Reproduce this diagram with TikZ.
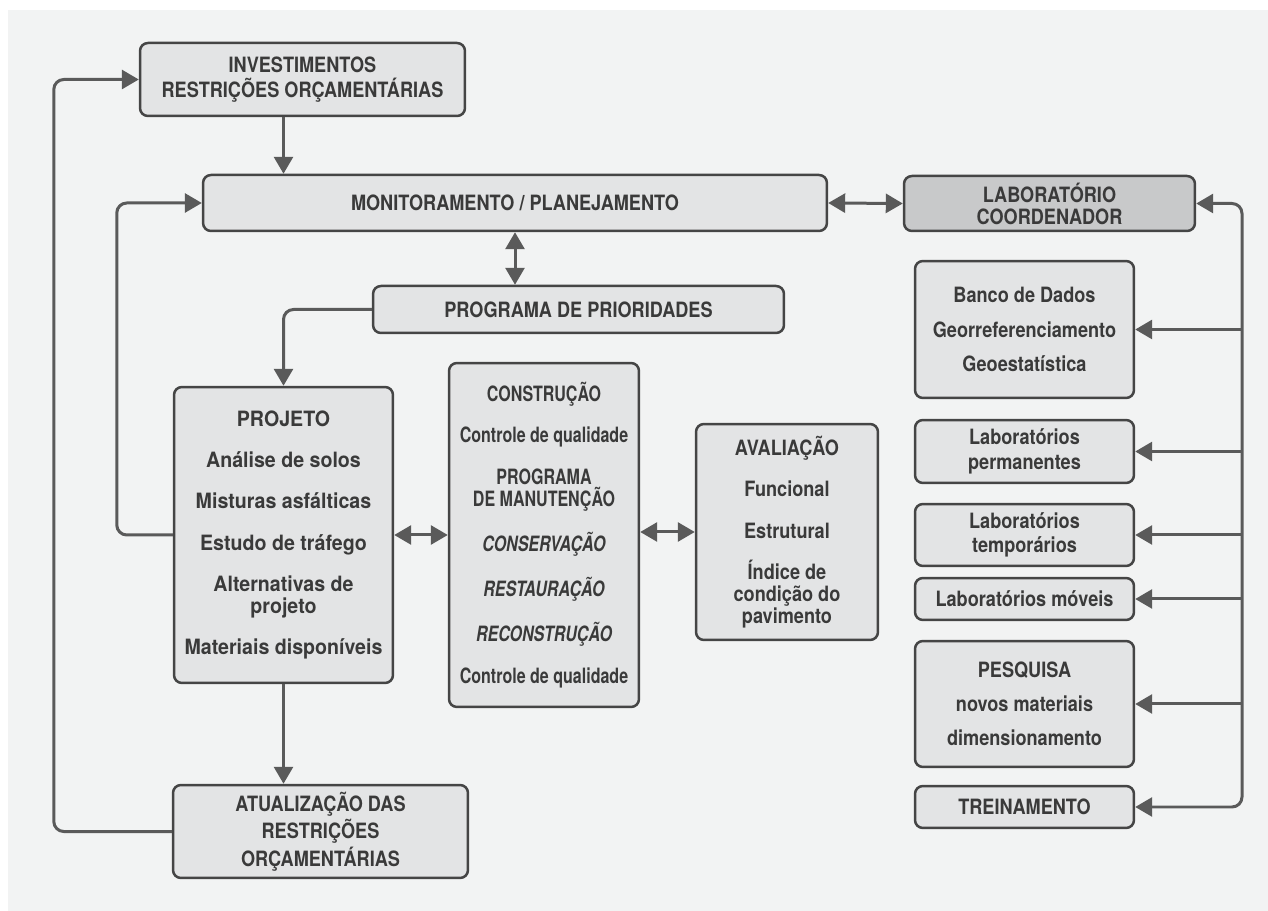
\documentclass[tikz,border=0pt]{standalone}
\usepackage{fontspec}
\setmainfont{TeX Gyre Heros}[FakeStretch=0.86]
\newfontfamily\narrowfont{TeX Gyre Heros}[FakeStretch=0.76]
\newfontfamily\widefont{TeX Gyre Heros}[FakeStretch=0.93]
\usetikzlibrary{arrows.meta}

\definecolor{BgGray}{HTML}{F2F3F3}
\definecolor{BoxGray}{HTML}{E3E4E5}
\definecolor{DarkGray}{HTML}{C8C9CA}
\definecolor{EdgeGray}{HTML}{454545}
\definecolor{LineGray}{HTML}{5A5A5A}
\definecolor{TextGray}{HTML}{3A3A3A}

\begin{document}
\begin{tikzpicture}
[
x=0.02cm, y=-0.02cm,
Box/.style={rectangle, rounded corners=4.5pt, draw=EdgeGray, fill=BoxGray, line width=0.05cm,
  inner sep=0pt, align=center, text=TextGray, font=\fontsize{12}{12.5}\selectfont\bfseries},
DarkBox/.style={Box, fill=DarkGray},
NarrowBox/.style={Box, font=\fontsize{12}{12.5}\narrowfont\bfseries},
WideBox/.style={Box, font=\fontsize{12}{12.5}\widefont\bfseries},
Arrow/.style={-{Triangle[length=0.34cm,width=0.38cm]}, line width=0.06cm, draw=LineGray},
DoubleArrow/.style={{Triangle[length=0.34cm,width=0.38cm]}-{Triangle[length=0.34cm,width=0.38cm]}, line width=0.06cm, draw=LineGray},
]

% background
\fill[white] (0,0) rectangle (1268,911);
\fill[BgGray] (8,10) rectangle (1268,911);

% left column
\node[Box, minimum width=6.5cm, minimum height=1.46cm] (inv) at (302.5,79.5)
  {INVESTIMENTOS\\[2pt] RESTRIÇÕES ORÇAMENTÁRIAS};
\node[Box, minimum width=12.48cm, minimum height=1.12cm] (mon) at (515,203)
  {MONITORAMENTO / PLANEJAMENTO};
\node[Box, minimum width=8.22cm, minimum height=0.94cm] (prog) at (578.5,309.5)
  {PROGRAMA DE PRIORIDADES};
\node[WideBox, minimum width=4.38cm, minimum height=5.92cm] (proj) at (283.5,535)
  {PROJETO\\[11pt] Análise de solos\\[11pt] Misturas asfálticas\\[11pt] Estudo de tráfego\\[11pt]
   Alternativas de\\ projeto\\[11pt] Materiais disponíveis};
\node[Box, minimum width=5.9cm, minimum height=1.86cm] (atual) at (320.5,831.5)
  {ATUALIZAÇÃO DAS\\[1pt] RESTRIÇÕES\\[1pt] ORÇAMENTÁRIAS};

% middle
\node[NarrowBox, minimum width=3.8cm, minimum height=6.88cm] (cons) at (544,535)
  {CONSTRUÇÃO\\[11pt] Controle de qualidade\\[11pt] PROGRAMA\\ DE MANUTENÇÃO\\[11pt]
   \itshape CONSERVAÇÃO\\[11pt] \itshape RESTAURAÇÃO\\[11pt] \itshape RECONSTRUÇÃO\\[11pt]
   Controle de qualidade};
\node[Box, minimum width=3.64cm, minimum height=4.32cm] (aval) at (787,532)
  {AVALIAÇÃO\\[11pt] Funcional\\[11pt] Estrutural\\[11pt] Índice de\\ condição do\\ pavimento};

% right column
\node[DarkBox, minimum width=5.82cm, minimum height=1.1cm] (coord) at (1049.5,203.5)
  {LABORATÓRIO\\ COORDENADOR};
\node[Box, minimum width=4.38cm, minimum height=2.74cm] (banco) at (1024.5,329.5)
  {Banco de Dados\\[7pt] Georreferenciamento\\[7pt] Geoestatística};
\node[Box, minimum width=4.38cm, minimum height=1.26cm] (perm) at (1024.5,451.5)
  {Laboratórios\\[1.5pt] permanentes};
\node[Box, minimum width=4.38cm, minimum height=1.24cm] (temp) at (1024.5,535)
  {Laboratórios\\[1.5pt] temporários};
\node[Box, minimum width=4.38cm, minimum height=0.84cm] (mov) at (1024.5,599)
  {Laboratórios móveis};
\node[Box, minimum width=4.38cm, minimum height=2.52cm] (pesq) at (1024.5,704)
  {PESQUISA\\[7pt] novos materiais\\[7pt] dimensionamento};
\node[Box, minimum width=4.38cm, minimum height=0.84cm] (trein) at (1024.5,807)
  {TREINAMENTO};

\coordinate (busend) at (1242,807);

% connectors
\draw[Arrow] (inv.south -| proj) -- (mon.north -| proj);
\draw[DoubleArrow] (mon.south) -- (mon.south |- prog.north);
\draw[Arrow, rounded corners=0.2cm] (prog.west) -| (proj.north);
\draw[Arrow, rounded corners=0.2cm] (proj.west) -- ++(-56,0) |- (mon.west);
\draw[Arrow, rounded corners=0.2cm] (atual.west) -- ++(-118,0) |- (inv.west);
\draw[Arrow] (proj.south) -- (proj.south |- atual.north);
\draw[DoubleArrow] (proj.east) -- (cons.west);
\draw[DoubleArrow] (aval.west -| cons.east) -- (aval.west);
\draw[DoubleArrow] (mon.east) -- (coord.west);

\draw[DoubleArrow, rounded corners=0.2cm] (coord.east) -| (busend) -- (trein.east);
\draw[Arrow] (banco.east -| busend) -- (banco.east);
\draw[Arrow] (perm.east -| busend) -- (perm.east);
\draw[Arrow] (temp.east -| busend) -- (temp.east);
\draw[Arrow] (mov.east -| busend) -- (mov.east);
\draw[Arrow] (pesq.east -| busend) -- (pesq.east);

\end{tikzpicture}
\end{document}
